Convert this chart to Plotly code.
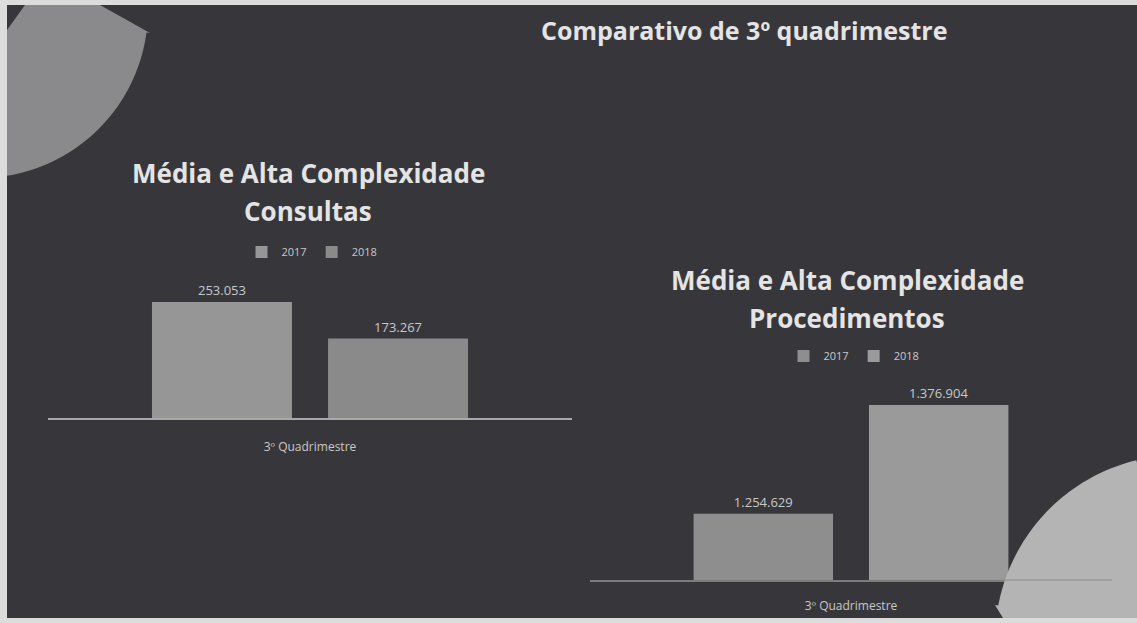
import math
import plotly.graph_objects as go

# ---------------- data ----------------
category = ["3º Quadrimestre"]
years = ["2017", "2018"]
consultas = [253053, 173267]
procedimentos = [1254629, 1376904]

main_title = "Comparativo de 3º quadrimestre"
title_left = ["Média e Alta Complexidade", "Consultas"]
title_right = ["Média e Alta Complexidade", "Procedimentos"]

# ---------------- style ----------------
W, H = 1137, 623
BG = "#37373b"
PAPER = "#dcdcdc"
TXT = "#e4e4e4"
LBL = "#c8c8c8"
bar_left = ["#969696", "#8a8a8a"]
bar_right = ["#8e8e8e", "#9a9a9a"]
FONT = "Open Sans"


def fx(x):
    return x / W


def fy(y):
    return 1 - y / H


fig = go.Figure()

for i, yr in enumerate(years):
    fig.add_trace(go.Bar(
        x=category, y=[consultas[i]], name=yr, marker_color=bar_left[i],
        marker_line_width=0, xaxis="x", yaxis="y", legend="legend",
        text=[consultas[i]], texttemplate="%{y:,.0f}", textposition="outside",
        textfont=dict(color=LBL, size=13, family=FONT), cliponaxis=False,
    ))
for i, yr in enumerate(years):
    fig.add_trace(go.Bar(
        x=category, y=[procedimentos[i]], name=yr, marker_color=bar_right[i],
        marker_line_width=0, xaxis="x2", yaxis="y2", legend="legend2",
        text=[procedimentos[i]], texttemplate="%{y:,.0f}", textposition="outside",
        textfont=dict(color=LBL, size=13, family=FONT), cliponaxis=False,
    ))

axis_common = dict(showgrid=False, zeroline=False, fixedrange=True)

fig.update_layout(
    width=W, height=H,
    margin=dict(l=0, r=0, t=0, b=0),
    paper_bgcolor=PAPER, plot_bgcolor="rgba(0,0,0,0)",
    separators=",.",
    barmode="group", bargap=0.328, bargroupgap=0.205,
    font=dict(family=FONT, color=TXT),
    xaxis=dict(domain=[fx(48), fx(572)], anchor="y", showline=True,
               linecolor="#a8a8a8", linewidth=2, ticks="outside", ticklen=17,
               tickcolor="rgba(0,0,0,0)", tickfont=dict(size=12, color=LBL),
               **axis_common),
    yaxis=dict(domain=[fy(418), fy(418 - 128.3)], anchor="x",
               range=[0, 280000], visible=False, **axis_common),
    xaxis2=dict(domain=[fx(590), fx(1112)], anchor="y2", showline=True,
                linecolor="#7c7c7c", linewidth=1.5, ticks="outside", ticklen=14,
                tickcolor="rgba(0,0,0,0)", tickfont=dict(size=12, color=LBL),
                **axis_common),
    yaxis2=dict(domain=[fy(580), fy(580 - 195.5)], anchor="x2",
                range=[1180000, 1400000], visible=False, **axis_common),
    legend=dict(orientation="h", x=fx(312), xanchor="center", y=fy(252),
                yanchor="middle", font=dict(size=11, color=LBL),
                bgcolor="rgba(0,0,0,0)", itemwidth=30, traceorder="normal"),
    legend2=dict(orientation="h", x=fx(854), xanchor="center", y=fy(356),
                 yanchor="middle", font=dict(size=11, color=LBL),
                 bgcolor="rgba(0,0,0,0)", itemwidth=30, traceorder="normal"),
    showlegend=True,
)

# ---------------- decorative shapes ----------------
shapes = []
shapes.append(dict(type="rect", xref="paper", yref="paper", layer="below",
                   x0=fx(7), x1=fx(1137), y0=fy(618), y1=fy(5),
                   fillcolor=BG, line_width=0))


def path_from(points):
    return "M " + " L ".join(f"{fx(x):.5f},{fy(y):.5f}" for x, y in points) + " Z"


# top-left wedge
cx, cy, r = -20, 10, 168
pts = [(25, 5), (100, 5), (150, 33)]
a0 = math.atan2(33 - cy, 150 - cx)
a1 = math.atan2(177 - cy, 7 - cx)
for k in range(41):
    a = a0 + (a1 - a0) * k / 40
    pts.append((cx + r * math.cos(a), cy + r * math.sin(a)))
pts += [(7, 177), (7, 30)]
shapes.append(dict(type="path", xref="paper", yref="paper", layer="below",
                   path=path_from(pts), fillcolor="#8a8a8c", line_width=0))

# bottom-right wedge
cx, cy, r = 1180, 640, 185
pts = [(1003, 618), (995, 605)]
a0 = math.atan2(605 - cy, 995 - cx)
a1 = math.atan2(463 - cy, 1137 - cx)
if a1 < a0:
    a1 += 2 * math.pi
for k in range(41):
    a = a0 + (a1 - a0) * k / 40
    pts.append((cx + r * math.cos(a), cy + r * math.sin(a)))
pts += [(1137, 463), (1137, 618)]
shapes.append(dict(type="path", xref="paper", yref="paper", layer="above",
                   path=path_from(pts), fillcolor="#b4b4b4", line_width=0))
shapes.append(dict(type="line", xref="paper", yref="paper", layer="above",
                   x0=fx(1000), x1=fx(1112), y0=fy(580), y1=fy(580),
                   line=dict(color="#8a8a8a", width=1)))
fig.update_layout(shapes=shapes)

# ---------------- titles ----------------
ann = []
ann.append(dict(text=main_title, x=fx(744), y=fy(30), xref="paper", yref="paper",
                showarrow=False, xanchor="center", yanchor="middle",
                font=dict(size=25, color=TXT, family=FONT, weight="bold")))
for j, line in enumerate(title_left):
    ann.append(dict(text=line, x=fx(308), y=fy(173 + 38 * j), xref="paper",
                    yref="paper", showarrow=False, xanchor="center",
                    yanchor="middle",
                    font=dict(size=26, color=TXT, family=FONT, weight="bold")))
for j, line in enumerate(title_right):
    ann.append(dict(text=line, x=fx(847), y=fy(280 + 38 * j), xref="paper",
                    yref="paper", showarrow=False, xanchor="center",
                    yanchor="middle",
                    font=dict(size=26, color=TXT, family=FONT, weight="bold")))
fig.update_layout(annotations=ann)

fig.write_html("out.html", config={"displayModeBar": False},
               post_script="document.body.style.margin='0px';")
